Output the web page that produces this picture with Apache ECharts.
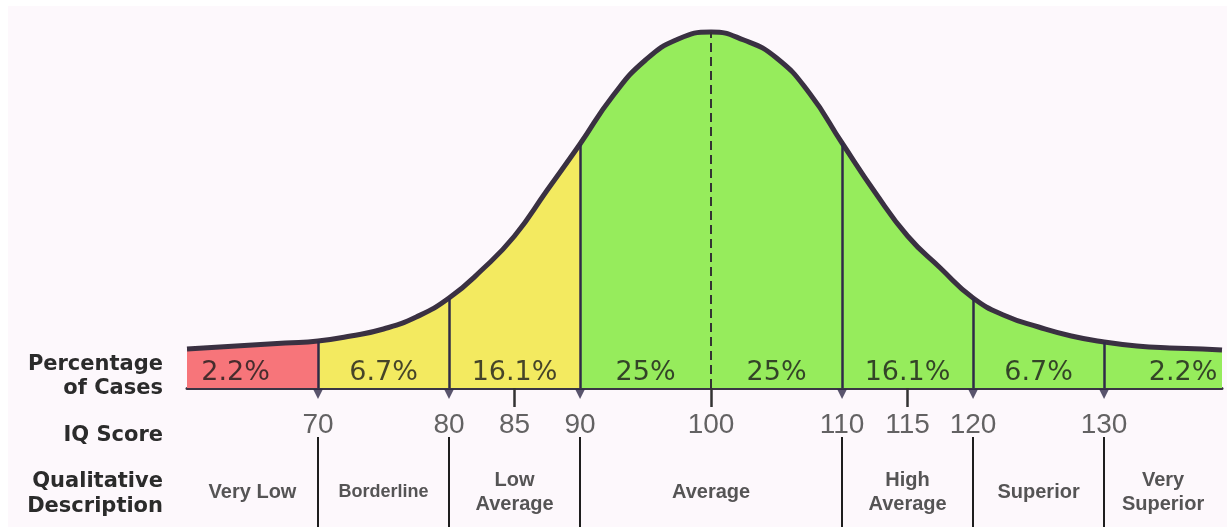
<!DOCTYPE html>
<html><head><meta charset="utf-8">
<script src="https://cdn.jsdelivr.net/npm/echarts@6/dist/echarts.min.js"></script>
<style>html,body{margin:0;padding:0;background:#fff}#c{width:1227px;height:527px}</style>
</head><body><div id="c"></div>
<script>
// IQ score positions along the curve and the curve's height
const iqX = [60,62.5,65,67.5,70,72.5,75,77.5,80,82.5,85,87.5,90,92.5,95,97.5,100,102.5,105,107.5,110,112.5,115,117.5,120,122.5,125,127.5,130,132.5,135,137.5,139];
const curveH = [39,41,43,45,47,52,59,71,90,118,152,198,244,292,328,349,356,348,330,295,245,196,152,120,90,72,61,52,46,42,40,39,38];
// band boundaries and percentage of cases
const bounds = [60,70,80,90,100,110,120,130,139];
const pctLabels = ['2.2%','6.7%','16.1%','25%','25%','16.1%','6.7%','2.2%'];
// qualitative descriptions
const descBounds = [60,70,80,90,110,120,130,139];
const descLabels = ['Very Low','Borderline','Low\nAverage','Average','High\nAverage','Superior','Very\nSuperior'];
// axis tick labels
const tickLabels = [70,80,85,90,100,110,115,120,130];
const minorTicks = [85,100,115];
const arrowAt = [70,80,90,110,120,130];
const meanX = 100;

const h = x => curveH[iqX.indexOf(x)];
const curveData = iqX.map((x,i)=>[x,curveH[i]]);
const dark = '#2f2b48';

const markLines = [];
arrowAt.forEach(x=>markLines.push([{coord:[x,0],lineStyle:{color:dark,width:2.5,type:'solid'}},{coord:[x,h(x)]}]));
markLines.push([{coord:[meanX,0],lineStyle:{color:'#333',width:2,type:[9,5]}},{coord:[meanX,h(meanX)]}]);
minorTicks.forEach(x=>markLines.push([{coord:[x,0],lineStyle:{color:'#333',width:2.5,type:'solid'}},{coord:[x,-19]}]));
descBounds.slice(1,-1).forEach(x=>markLines.push([{coord:[x,-49],lineStyle:{color:'#1e1e1e',width:2,type:'solid'}},{coord:[x,-139]}]));

const chart = echarts.init(document.getElementById('c'), null, {renderer:'canvas'});
chart.setOption({
  animation:false,
  backgroundColor:'#ffffff',
  graphic:[
    {type:'rect', z:-10, silent:true, shape:{x:8,y:6,width:1219,height:521}, style:{fill:'#fdf8fc'}},
    {type:'text', x:163, y:377, style:{text:'Percentage\nof Cases', align:'right', verticalAlign:'middle', font:'bold 21px "DejaVu Sans"', fill:'#2b2b2b', lineHeight:24}},
    {type:'text', x:163, y:436, style:{text:'IQ Score', align:'right', verticalAlign:'middle', font:'bold 21px "DejaVu Sans"', fill:'#2b2b2b'}},
    {type:'text', x:163, y:494, style:{text:'Qualitative\nDescription', align:'right', verticalAlign:'middle', font:'bold 21px "DejaVu Sans"', fill:'#2b2b2b', lineHeight:25}}
  ],
  grid:{left:187, right:5, top:20, bottom:0, containLabel:false, outerBoundsMode:'none'},
  xAxis:{type:'value', min:60, max:139, interval:5,
    axisLine:{onZero:true, lineStyle:{color:'#3a3545', width:3}},
    axisTick:{show:false}, splitLine:{show:false}, axisLabel:{show:false}},
  yAxis:{type:'value', min:-139, max:368, show:false, splitLine:{show:false}},
  visualMap:{show:false, type:'piecewise', dimension:0, seriesIndex:0,
    pieces:[{lt:bounds[1], color:'#f7757a'},{gte:bounds[1], lt:bounds[3], color:'#f3ea60'},{gte:bounds[3], color:'#96ec5c'}]},
  series:[
    {type:'line', data:curveData, smooth:0.5, symbol:'none', lineStyle:{width:0}, areaStyle:{opacity:1}, z:1, silent:true},
    {type:'scatter', data:arrowAt.map(x=>[x,-6]), symbol:'triangle', symbolRotate:180, symbolSize:[10,10],
      itemStyle:{color:dark}, z:3, silent:true,
      markLine:{silent:true, symbol:'none', label:{show:false}, data:markLines}},
    {type:'line', data:curveData, smooth:0.5, symbol:'none', lineStyle:{width:5, color:'#3a3142'}, z:4, silent:true},
    {type:'scatter', z:5, silent:true, symbolSize:1, itemStyle:{color:'transparent'},
      data:pctLabels.map((t,i)=>({name:t, value:[(bounds[i]+bounds[i+1])/2,15],
        label:{offset: i===0?[-17,0]:(i===pctLabels.length-1?[20,0]:[0,0])}})),
      label:{show:true, position:'inside', formatter:'{b}', fontSize:27, fontFamily:'DejaVu Sans', color:'#1a1a1a'}},
    {type:'scatter', z:5, silent:true, symbolSize:1, itemStyle:{color:'transparent'},
      data:tickLabels.map(v=>({name:String(v), value:[v,-37]})),
      label:{show:true, position:'inside', formatter:'{b}', fontSize:28, fontFamily:'Liberation Sans', color:'#3c3c3c'}},
    {type:'scatter', z:5, silent:true, symbolSize:1, itemStyle:{color:'transparent'},
      data:descLabels.map((t,i)=>({name:t, value:[(descBounds[i]+descBounds[i+1])/2,-104],
        label:{fontSize: t==='Borderline'?18:20}})),
      label:{show:true, position:'inside', formatter:'{b}', fontWeight:'bold', fontFamily:'Liberation Sans', color:'#2b2b2b', lineHeight:24}}
  ]
});
</script></body></html>
